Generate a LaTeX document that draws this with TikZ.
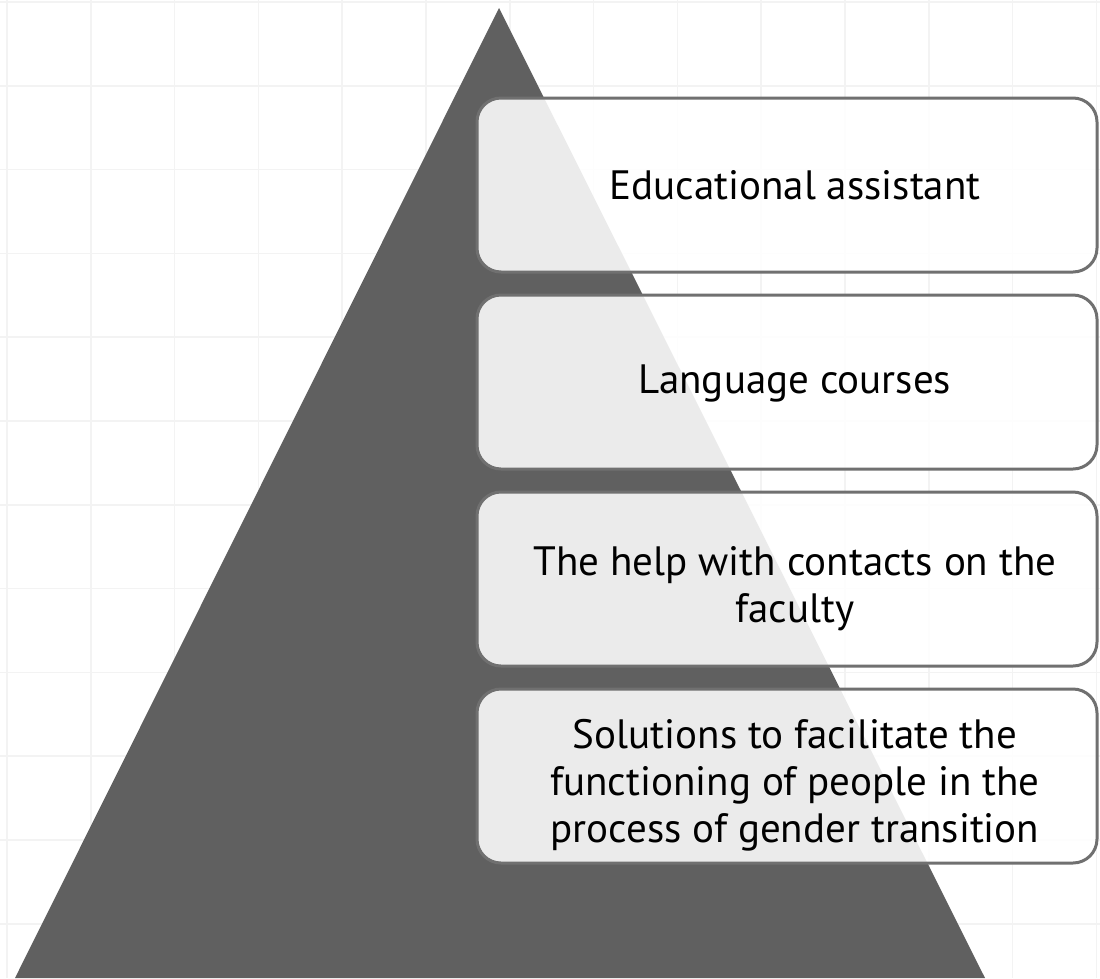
\documentclass[tikz,border=0pt]{standalone}
\usepackage{fontspec}
\setmainfont{PT Sans}
\definecolor{tri}{RGB}{96,96,96}
\definecolor{gridc}{RGB}{243,243,243}
\definecolor{edgec}{RGB}{112,112,112}
\tikzset{
  tier/.style={draw=edgec, line width=3pt, fill=white, fill opacity=0.88, draw opacity=1, rounded corners=24pt},
  tiertext/.style={text=black, align=center, font=\fontsize{41}{47}\selectfont, inner sep=0pt},
}
\begin{document}
\begin{tikzpicture}[x=1pt,y=-1pt]
\useasboundingbox (0,0) rectangle (1100,978);
\fill[white] (0,0) rectangle (1100,978);
% faint grid
\foreach \i in {0,...,13} {
  \draw[gridc, line width=1.5pt] ({7+83.8*\i},0) -- ({7+83.8*\i},978);
}
\foreach \j in {0,...,11} {
  \draw[gridc, line width=1.5pt] (0,{2+83.8*\j}) -- (1100,{2+83.8*\j});
}
% pyramid
\coordinate (apex) at (499,8);
\coordinate (bl) at (15,978);
\coordinate (br) at (985,978);
\fill[tri] (apex) -- (bl) -- (br) -- cycle;
% tiers
\foreach \t/\b [count=\k] in {98/272, 295/469, 492/666, 689/863} {
  \draw[tier] (477,\t) rectangle (1097,\b);
}
\node[tiertext] (t1) at (795,185) {Educational assistant};
\node[tiertext] (t2) at (795,383) {Language courses};
\node[tiertext] (t3) at (795,589) {The help with contacts on the\\faculty};
\node[tiertext] (t4) at (795,785) {Solutions to facilitate the\\functioning of people in the\\process of gender transition};
\end{tikzpicture}
\end{document}
